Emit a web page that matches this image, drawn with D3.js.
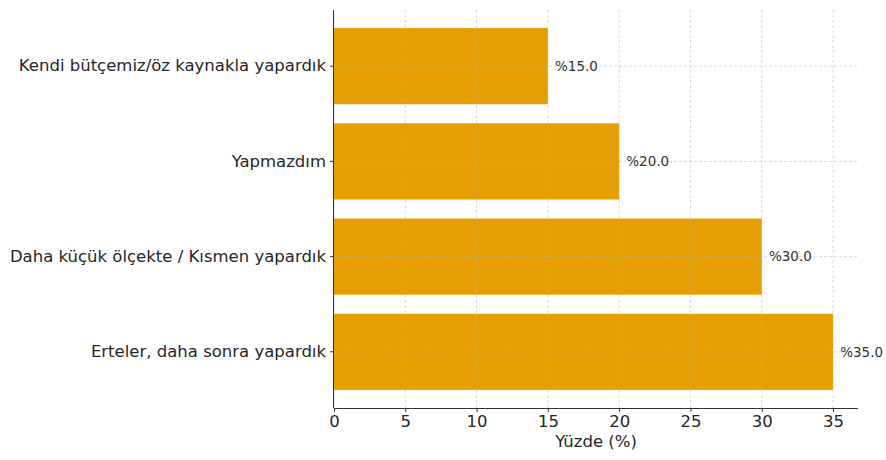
<!DOCTYPE html>
<html>
<head>
<meta charset="utf-8">
<script src="https://cdn.jsdelivr.net/npm/d3@7"></script>
<style>
  body { margin: 0; background: #fff; }
  svg { display: block; font-family: "DejaVu Sans", sans-serif; }
</style>
</head>
<body>
<svg id="chart" width="886" height="460"></svg>
<script>
// Categories listed top to bottom, with their percentages
const categories = [
  "Kendi bütçemiz/öz kaynakla yapardık",
  "Yapmazdım",
  "Daha küçük ölçekte / Kısmen yapardık",
  "Erteler, daha sonra yapardık"
];
const percentages = [15, 20, 30, 35];
const xTicks = [0, 5, 10, 15, 20, 25, 30, 35];
const xLabel = "Yüzde (%)";

const svg = d3.select("#chart");
const plot = { left: 334, right: 858, top: 10, bottom: 408 };
const barColor = "#E69F00";
const labelSize = 16.5;

const x = d3.scaleLinear().domain([0, d3.max(percentages) * 1.05]).range([plot.left, plot.right]);
const y = d3.scaleBand().domain(categories).range([plot.top, plot.bottom])
  .paddingInner(0.2).paddingOuter(0.19);

// Bars
svg.append("g").selectAll("rect")
  .data(categories)
  .join("rect")
  .attr("x", x(0))
  .attr("y", d => y(d))
  .attr("width", (d, i) => x(percentages[i]) - x(0))
  .attr("height", y.bandwidth())
  .attr("fill", barColor);

// Dashed grid, drawn over the bars
const grid = svg.append("g")
  .attr("stroke", "#b0b0b0")
  .attr("stroke-opacity", 0.6)
  .attr("stroke-width", 0.8)
  .attr("stroke-dasharray", "3,2");
grid.selectAll("line.v").data(xTicks).join("line")
  .attr("class", "v")
  .attr("x1", d => x(d)).attr("x2", d => x(d))
  .attr("y1", plot.top).attr("y2", plot.bottom);
grid.selectAll("line.h").data(categories).join("line")
  .attr("class", "h")
  .attr("x1", plot.left).attr("x2", plot.right)
  .attr("y1", d => y(d) + y.bandwidth() / 2)
  .attr("y2", d => y(d) + y.bandwidth() / 2);

// Value labels
svg.append("g").selectAll("text")
  .data(categories)
  .join("text")
  .attr("x", (d, i) => x(percentages[i] + 0.5))
  .attr("y", d => y(d) + y.bandwidth() / 2)
  .attr("dy", "0.35em")
  .attr("font-size", 13.5)
  .attr("fill", "#333")
  .text((d, i) => "%" + percentages[i].toFixed(1));

// Axes
const xAxis = svg.append("g")
  .attr("transform", `translate(0,${plot.bottom})`)
  .call(d3.axisBottom(x).tickValues(xTicks).tickSize(4).tickPadding(3).tickFormat(d3.format("d")));
xAxis.select(".domain").attr("stroke", "#333").attr("d", `M${plot.left},0.5H${plot.right}`);
xAxis.selectAll(".tick line").attr("stroke", "#333");
xAxis.selectAll(".tick text").attr("font-size", labelSize).attr("fill", "#262626")
  .attr("font-family", "DejaVu Sans, sans-serif");

const yAxis = svg.append("g")
  .attr("transform", `translate(${plot.left},0)`)
  .call(d3.axisLeft(y).tickSize(4).tickPadding(4));
yAxis.select(".domain").attr("stroke", "#333").attr("d", `M-0.5,${plot.top}V${plot.bottom}`);
yAxis.selectAll(".tick line").attr("stroke", "#333");
yAxis.selectAll(".tick text").attr("font-size", labelSize).attr("fill", "#262626")
  .attr("font-family", "DejaVu Sans, sans-serif");

svg.append("text")
  .attr("x", (plot.left + plot.right) / 2)
  .attr("y", 447)
  .attr("text-anchor", "middle")
  .attr("font-size", labelSize)
  .attr("fill", "#262626")
  .text(xLabel);
</script>
</body>
</html>
